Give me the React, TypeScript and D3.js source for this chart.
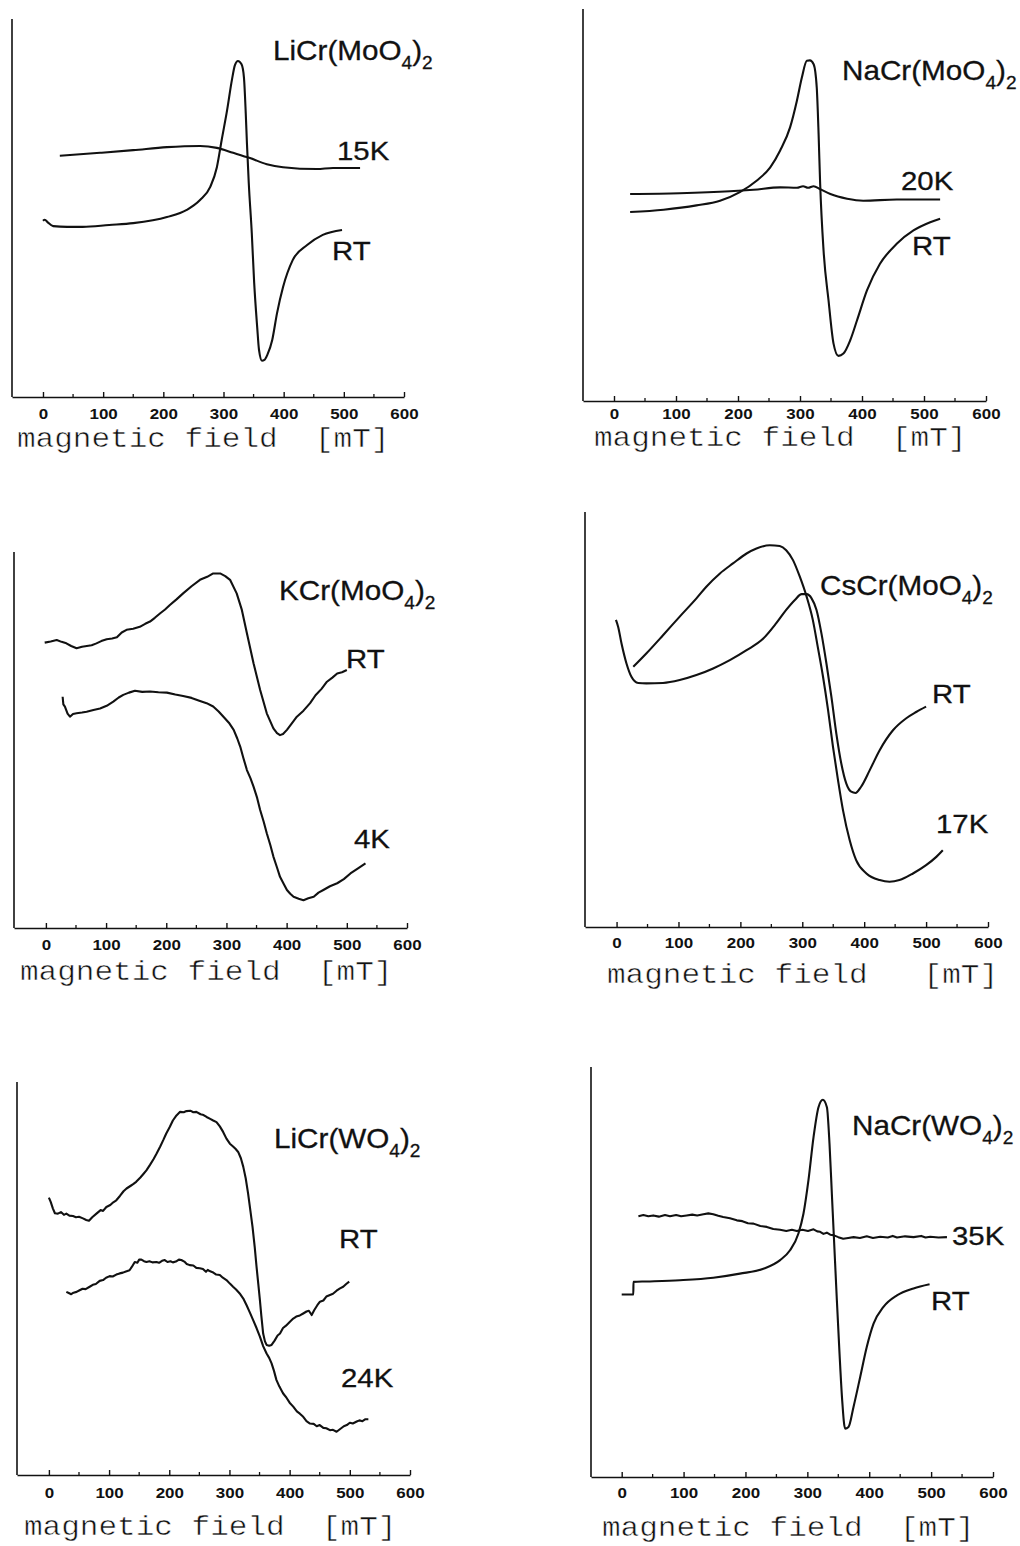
import React, { useEffect, useRef } from "react";
import * as d3 from "d3";

// field axis ticks (mT)
const fieldTicks = [0, 100, 200, 300, 400, 500, 600];
const minorTicks = [50, 150, 250, 350, 450, 550];

// intensity is in arbitrary units, 0 = x axis, 100 = top of the y axis
const liMoRT: [number, number][] = [
  [0, 46.6], [3, 46.9], [8, 46.2], [17, 45.2], [40, 45.0], [66, 45.0], [110, 45.5], [150, 46.0],
  [206, 47.6], [239, 49.5], [261, 52.1], [278, 55.6], [289, 60.8], [297, 68.0], [306, 75.9],
  [314, 83.9], [319, 87.8], [324, 88.9], [330, 88.0], [334, 84.5], [337, 75.0], [339, 67.0],
  [342, 56.6], [347, 43.4], [351, 30.2], [356, 18.5], [359, 12.5], [364, 9.6], [368, 9.8],
  [373, 11.2], [381, 15.1], [389, 22.2], [399, 29.1], [415, 36.2], [439, 40.2], [465, 42.9], [497, 44.2],
];
const liMo15K: [number, number][] = [
  [28, 63.8], [95, 64.6], [150, 65.3], [206, 66.1], [261, 66.4], [289, 65.9], [316, 64.6],
  [344, 63.2], [372, 61.6], [399, 60.8], [455, 60.3], [482, 60.6], [527, 60.6],
];

const naMoRT: [number, number][] = [
  [26, 48.2], [80, 48.8], [133, 49.9], [171, 51.1], [203, 53.3], [230, 56.2], [252, 59.6],
  [268, 63.9], [284, 69.8], [295, 76.6], [303, 82.5], [311, 86.8], [316, 86.9], [322, 85.9],
  [327, 80.0], [330, 68.1], [332.5, 55.4], [338, 38.4], [346, 25.7], [354, 14.7], [362, 11.5],
  [370, 12.1], [381, 15.5], [392, 20.6], [408, 28.2], [429, 35.0], [456, 40.1], [483, 43.5],
  [510, 45.6], [526, 46.5],
];
const naMo20K: [number, number][] = [
  [26, 52.8], [106, 53.0], [187, 53.5], [225, 53.9], [268, 54.5], [295, 54.4], [305, 54.8],
  [313, 54.4], [322, 54.8], [332, 54.1], [349, 52.8], [376, 51.6], [402, 51.1], [456, 51.4], [526, 51.4],
];

const kMoRT: [number, number][] = [
  [-2, 75.9], [8, 76.2], [18, 76.6], [26, 76.1], [34, 75.7], [42, 75.0], [51, 74.4], [60, 74.8],
  [68, 75.0], [76, 75.2], [84, 75.7], [92, 76.3], [101, 76.8], [110, 77.0], [118, 77.3], [126, 78.6],
  [134, 79.3], [145, 79.6], [156, 80.1], [165, 80.9], [173, 81.5], [181, 82.5], [190, 83.7],
  [198, 84.7], [206, 85.9], [217, 87.4], [228, 89.0], [242, 90.9], [256, 92.6], [268, 93.4],
  [278, 94.3], [289.5, 94.3], [298, 93.6], [306, 92.6], [317, 89.0], [325.6, 84.6], [334, 78.4],
  [345, 70.4], [356, 63.3], [367, 57.1], [378, 53.1], [384, 51.8], [389, 51.3], [394, 51.6],
  [400.5, 52.7], [408, 54.3], [417, 56.2], [428, 57.8], [439, 59.8], [448, 61.9], [458, 63.6],
  [467, 65.5], [476, 66.6], [484, 67.7], [492, 68.0], [500, 68.6],
];
const kMo4K: [number, number][] = [
  [27.8, 61.5], [29, 59.5], [31.6, 58.9], [36, 57.0], [40, 56.2], [45, 56.9], [51, 57.1],
  [60, 57.3], [67.7, 57.5], [79, 58.0], [90, 58.4], [101, 59.1], [112, 60.2], [121, 61.3],
  [128.6, 62.0], [138, 62.6], [148, 63.1], [160, 62.8], [173, 62.9], [187, 62.7], [201, 62.6],
  [215, 62.1], [228, 61.7], [242, 61.2], [256, 60.4], [267, 59.8], [278, 58.9], [287, 57.6],
  [295, 56.2], [304, 54.6], [312, 52.7], [318, 50.4], [323, 48.2], [328, 45.3], [334, 42.0],
  [340, 39.8], [345, 37.6], [351, 34.6], [356, 31.4], [362, 28.2], [367, 25.2], [373, 22.0],
  [378, 19.0], [384, 16.1], [389, 13.6], [395, 11.8], [400.5, 10.1], [406, 9.1], [411.5, 8.3],
  [420, 7.8], [428, 7.4], [436, 7.9], [445, 8.3], [453, 9.4], [461, 10.1], [472, 11.1],
  [484, 11.9], [495, 13.0], [506, 14.5], [518, 15.8], [531, 17.2],
];

const csMoRT: [number, number][] = [
  [-1, 74.0], [2.6, 72.3], [8, 68.3], [16, 63.5], [24, 60.3], [35, 58.8], [48, 58.7], [75, 58.8],
  [102, 59.5], [129, 60.7], [156, 62.3], [183, 64.3], [210, 66.7], [237, 69.5], [258, 73.2],
  [274, 76.4], [288, 78.8], [299, 80.2], [307, 80.2], [315, 79.2], [323, 76.4], [331, 70.7],
  [339, 63.5], [347, 55.5], [355, 46.6], [363, 39.4], [371, 34.6], [379, 32.6], [386, 32.3],
  [395, 33.8], [409, 37.8], [425, 42.6], [446.5, 47.4], [468, 50.3], [484, 51.8], [500, 53.1],
];
const csMo17K: [number, number][] = [
  [27, 62.7], [48, 65.9], [75, 70.3], [102, 74.8], [129, 79.2], [145, 82.0], [167, 85.2],
  [188, 87.6], [210, 90.0], [226, 91.2], [247.5, 92.0], [263.6, 91.8], [274, 90.8], [285, 88.4],
  [296, 84.4], [307, 79.6], [317, 74.0], [325, 67.5], [333.5, 60.3], [341.6, 52.3], [349.6, 43.4],
  [357.7, 35.4], [365.8, 28.1], [376.6, 20.9], [387, 16.1], [403.6, 12.9], [425, 11.3], [441, 10.9],
  [457, 11.3], [478.8, 12.9], [500, 14.9], [516.5, 16.9], [527, 18.5],
];

const liWRT: [number, number][] = [
  [0, 70.6], [3, 69.5], [6.7, 67.8], [10, 66.6], [15, 66.5], [20, 66.9], [25, 66.2], [29, 66.5],
  [34, 66.0], [40, 65.9], [45, 65.6], [50, 65.7], [56.6, 65.3], [62, 64.9], [66.6, 64.7], [72, 65.6],
  [79, 66.5], [86, 67.4], [90, 67.2], [95.5, 68.2], [102, 68.7], [107, 69.4], [112, 69.9], [118, 71.0],
  [124, 72.2], [129, 72.9], [136, 73.6], [140, 74.0], [145, 74.6], [152, 75.7], [157, 76.6], [162, 77.5],
  [168, 78.9], [174, 80.4], [179, 81.8], [185, 83.6], [190, 85.2], [195, 86.9], [201, 88.6], [206, 90.2],
  [212, 91.5], [218, 92.4], [224, 92.3], [228.6, 92.6], [235, 92.7], [240, 92.3], [245, 92.4], [252, 91.8],
  [257, 91.6], [262, 91.1], [268, 90.6], [273, 90.2], [278.5, 89.8], [284, 88.7], [289.5, 87.3], [295, 85.6],
  [300.7, 84.3], [306, 83.6], [310, 83.0], [314.5, 82.2], [319, 80.6], [323, 78.4], [327, 75.5], [331, 71.6],
  [335, 67.0], [338.4, 63.1], [342, 58.0], [345, 53.0], [348, 48.5], [350.6, 44.5], [353, 40.5], [356, 36.0],
  [359, 34.0], [361.7, 33.1], [366, 32.9], [370, 33.1], [375, 34.2], [380, 35.5], [384, 36.0], [389, 37.4],
  [394, 38.0], [400.5, 39.0], [406, 39.8], [411, 40.3], [417, 40.6], [422.6, 41.1], [428, 41.6], [432, 41.8],
  [436.6, 40.7], [441, 42.0], [446, 43.2], [450.4, 44.1], [456, 44.4], [461, 45.4], [467, 45.8], [472, 46.1],
  [478, 46.9], [483.7, 47.5], [489, 47.9], [494, 48.6], [499, 49.2],
];
const liW24K: [number, number][] = [
  [29, 46.6], [33, 46.3], [37, 46.0], [41, 46.4], [46, 46.6], [51, 47.0], [56, 47.4], [61, 47.3],
  [67.7, 47.9], [73, 48.4], [78, 48.6], [84.4, 49.4], [90, 49.6], [95, 50.2], [101, 50.6], [106, 50.5],
  [112, 51.0], [117.6, 51.3], [123, 51.5], [128, 51.8], [134, 52.1], [138, 53.0], [142.7, 54.2], [147, 54.0],
  [150, 54.8], [153.7, 54.8], [158, 54.4], [162, 54.2], [167, 54.4], [172, 54.1], [178.7, 54.2], [183, 54.0],
  [188, 54.5], [192.5, 54.7], [197, 54.2], [202, 54.4], [206, 54.1], [211, 54.3], [216, 54.8], [220, 54.7],
  [225, 54.3], [229, 53.7], [234, 53.4], [240, 53.3], [245, 52.7], [250.7, 52.6], [256, 52.4], [261, 51.7],
  [264, 52.2], [267, 51.9], [272, 51.6], [278, 51.0], [284, 50.9], [289, 50.2], [295, 49.6], [300.7, 48.7],
  [306, 47.9], [311, 47.2], [317, 46.2], [323, 44.9], [328.5, 43.2], [334, 41.3], [339.4, 39.4], [345, 37.4],
  [350.6, 35.2], [356, 32.8], [361.7, 30.9], [366, 29.8], [370, 28.4], [374, 26.5], [378, 24.2], [383, 22.5],
  [389, 20.8], [395, 19.6], [400, 18.4], [406, 17.4], [412, 16.2], [417, 15.6], [422.6, 14.8], [428, 13.7],
  [433.8, 13.1], [440, 13.0], [445, 12.4], [450, 12.7], [456, 12.0], [461, 11.9], [467, 11.4], [472, 11.5],
  [478, 11.0], [484, 11.7], [490, 12.4], [495, 12.7], [500, 13.3], [505, 13.1], [511.5, 13.6], [516, 13.9],
  [521, 13.7], [526, 14.2], [530.8, 14.2],
];

const naWRT: [number, number][] = [
  [0, 44.5], [18.8, 44.5], [19, 47.6], [40.4, 47.7], [94, 48.0], [148, 48.6], [191, 49.6],
  [229, 50.8], [256, 52.9], [272, 55.3], [285.6, 59.4], [293.7, 64.2], [301.8, 72.4], [310, 82.9],
  [318, 90.2], [325, 92.0], [331.6, 90.2], [335.8, 81.3], [339.6, 69.1], [343.4, 56.9], [347.7, 43.1],
  [352, 30.1], [356.3, 18.7], [361, 11.8], [366.5, 12.2], [374.6, 17.1], [385.4, 24.4], [396, 31.7],
  [407, 37.4], [423, 41.5], [444.8, 44.3], [471.6, 46.0], [497.5, 47.0],
];
const naW35K: [number, number][] = [
  [27, 63.6], [35, 63.9], [43, 63.6], [51, 63.8], [60, 63.5], [70, 63.9], [78, 63.6], [88, 63.9],
  [96, 63.6], [105, 63.8], [114, 64.0], [122, 63.8], [132, 64.1], [140, 64.3], [148, 64.1], [156, 63.7],
  [164, 63.4], [175, 63.1], [186, 62.6], [195, 62.4], [204, 61.9], [213, 61.8], [224, 61.2], [234.5, 61.0],
  [245, 60.5], [256, 60.3], [266, 60.0], [275, 60.3], [283, 60.0], [292, 60.3], [301, 60.0], [310, 60.4],
  [316, 59.9], [320.7, 59.8], [326, 59.3], [331.5, 59.6], [337, 59.1], [342, 59.0], [350, 58.5],
  [358, 58.1], [366, 58.3], [374.6, 58.5], [385, 58.3], [396, 58.7], [406, 58.3], [417.8, 58.6],
  [430, 58.4], [438, 58.8], [444.8, 58.4], [458, 58.7], [471.6, 58.5], [484, 58.8], [491, 58.4],
  [498.6, 58.6], [512, 58.4], [525.6, 58.5],
];

const INK = "#111";
const SANS = "'Liberation Sans', Arial, Helvetica, sans-serif";
const MONO = "'Courier New', 'Liberation Mono', monospace";
const SX = 1.13; // the scanned figure is slightly stretched sideways
const SX_TITLE = 1.06;

const panels = [
  {
    left: 12, right: 404, top: 19, bottom: 397, xMin: -51.5,
    series: [{ data: liMo15K, noisy: false }, { data: liMoRT, noisy: false }],
    compound: "LiCr(MoO", tx: 273, ty: 60,
    labels: [{ text: "15K", x: 337, y: 160 }, { text: "RT", x: 332, y: 260 }],
    tickY: 419, axisTitle: "magnetic field  [mT]", atx: 17, aty: 447,
  },
  {
    left: 583, right: 986, top: 9, bottom: 401, xMin: -50,
    series: [{ data: naMo20K, noisy: false }, { data: naMoRT, noisy: false }],
    compound: "NaCr(MoO", tx: 842, ty: 80,
    labels: [{ text: "20K", x: 901, y: 190 }, { text: "RT", x: 912, y: 255 }],
    tickY: 419, axisTitle: "magnetic field  [mT]", atx: 594, aty: 446,
  },
  {
    left: 14, right: 407, top: 552, bottom: 928, xMin: -53,
    series: [{ data: kMoRT, noisy: true }, { data: kMo4K, noisy: true }],
    compound: "KCr(MoO", tx: 279, ty: 600,
    labels: [{ text: "RT", x: 346, y: 668 }, { text: "4K", x: 354, y: 848 }],
    tickY: 950, axisTitle: "magnetic field  [mT]", atx: 20, aty: 980,
  },
  {
    left: 585, right: 988, top: 512, bottom: 927, xMin: -51,
    series: [{ data: csMoRT, noisy: false }, { data: csMo17K, noisy: false }],
    compound: "CsCr(MoO", tx: 820, ty: 595,
    labels: [{ text: "RT", x: 932, y: 703 }, { text: "17K", x: 936, y: 833 }],
    tickY: 948, axisTitle: "magnetic field   [mT]", atx: 607, aty: 983,
  },
  {
    left: 17, right: 410, top: 1082, bottom: 1475, xMin: -53,
    series: [{ data: liWRT, noisy: true }, { data: liW24K, noisy: true }],
    compound: "LiCr(WO", tx: 274, ty: 1148,
    labels: [{ text: "RT", x: 339, y: 1248 }, { text: "24K", x: 341, y: 1387 }],
    tickY: 1498, axisTitle: "magnetic field  [mT]", atx: 24, aty: 1535,
  },
  {
    left: 591, right: 993, top: 1067, bottom: 1477, xMin: -49.6,
    series: [{ data: naW35K, noisy: true }, { data: naWRT, noisy: false }],
    compound: "NaCr(WO", tx: 852, ty: 1135,
    labels: [{ text: "35K", x: 952, y: 1245 }, { text: "RT", x: 931, y: 1310 }],
    tickY: 1498, axisTitle: "magnetic field  [mT]", atx: 602, aty: 1536,
  },
];

function App() {
  const ref = useRef<SVGSVGElement>(null);

  useEffect(() => {
    const svg = d3.select(ref.current);
    svg.selectAll("*").remove();

    panels.forEach((p) => {
      const x = d3.scaleLinear().domain([p.xMin, 600]).range([p.left, p.right]);
      const y = d3.scaleLinear().domain([0, 100]).range([p.bottom, p.top]);
      const g = svg.append("g");

      // y axis: bare line
      g.append("line")
        .attr("x1", x(p.xMin))
        .attr("x2", x(p.xMin))
        .attr("y1", y(0))
        .attr("y2", y(100))
        .attr("stroke", INK)
        .attr("stroke-width", 1.6);

      // x axis, ticks pointing inwards
      const ax = g
        .append("g")
        .attr("transform", `translate(0,${y(0)})`)
        .call(
          d3
            .axisBottom(x)
            .tickValues(fieldTicks)
            .tickSizeInner(-5)
            .tickSizeOuter(0)
            .tickFormat(d3.format("d"))
        );
      ax.select(".domain").attr("stroke", INK).attr("stroke-width", 1.6);
      ax.selectAll(".tick line").attr("stroke", INK).attr("stroke-width", 1.4);
      ax.selectAll(".tick text")
        .attr("y", null)
        .attr("dy", null)
        .attr("transform", `translate(0,${p.tickY - p.bottom}) scale(${SX},1)`)
        .attr("font-family", SANS)
        .attr("font-size", 15)
        .attr("font-weight", "bold")
        .attr("fill", INK);

      g.selectAll(".minor")
        .data(minorTicks)
        .join("line")
        .attr("class", "minor")
        .attr("x1", (d) => x(d))
        .attr("x2", (d) => x(d))
        .attr("y1", y(0))
        .attr("y2", y(0) - 3)
        .attr("stroke", INK)
        .attr("stroke-width", 1.3);

      // spectra
      p.series.forEach((s) => {
        const line = d3
          .line<[number, number]>()
          .x((d) => x(d[0]))
          .y((d) => y(d[1]))
          .curve(s.noisy ? d3.curveLinear : d3.curveMonotoneX);
        g.append("path")
          .datum(s.data)
          .attr("d", line)
          .attr("fill", "none")
          .attr("stroke", INK)
          .attr("stroke-width", 2.1)
          .attr("stroke-linejoin", "round");
      });

      // compound name with subscripts
      const t = g
        .append("text")
        .attr("transform", `translate(${p.tx},${p.ty}) scale(${SX_TITLE},1)`)
        .attr("font-family", SANS)
        .attr("font-size", 28)
        .attr("fill", INK)
        .attr("stroke", INK)
        .attr("stroke-width", 0.3);
      t.append("tspan").text(p.compound);
      t.append("tspan").attr("dy", 9).attr("font-size", 18).text("4");
      t.append("tspan").attr("dy", -9).text(")");
      t.append("tspan").attr("dy", 9).attr("font-size", 18).text("2");

      // curve labels
      p.labels.forEach((l) => {
        g.append("text")
          .attr("transform", `translate(${l.x},${l.y}) scale(${SX},1)`)
          .attr("font-family", SANS)
          .attr("font-size", 26)
          .attr("fill", INK)
          .attr("stroke", INK)
          .attr("stroke-width", 0.3)
          .text(l.text);
      });

      // axis title
      g.append("text")
        .attr("transform", `translate(${p.atx},${p.aty}) scale(1.15,1)`)
        .attr("xml:space", "preserve")
        .style("white-space", "pre")
        .attr("font-family", MONO)
        .attr("font-size", 27)
        .attr("fill", INK)
        .attr("stroke", "#fff")
        .attr("stroke-width", 0.5)
        .text(p.axisTitle);
    });
  }, []);

  return (
    <svg
      ref={ref}
      width={1020}
      height={1546}
      style={{ position: "absolute", left: 0, top: 0, background: "#fff" }}
    />
  );
}

export default App;
